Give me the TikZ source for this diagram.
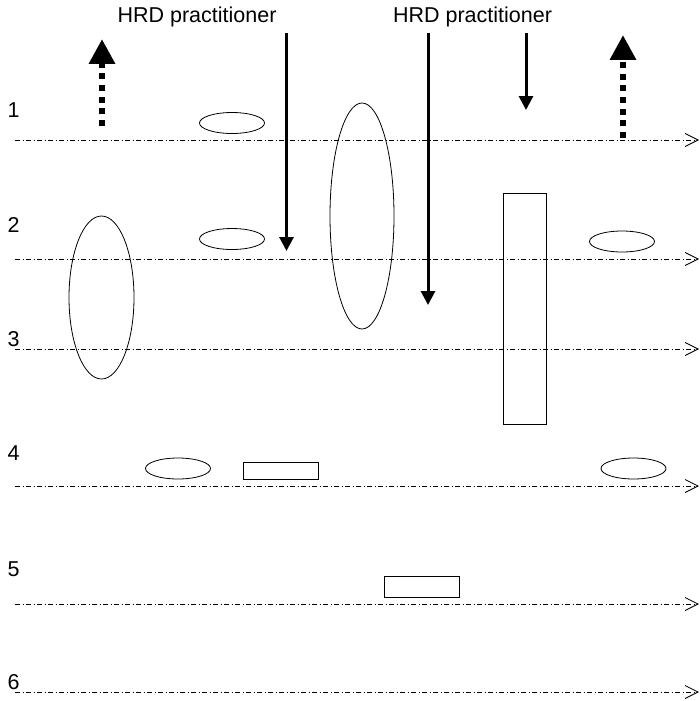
\documentclass[tikz,border=0pt]{standalone}
\usepackage{fontspec}
\setmainfont{Liberation Sans}
\usetikzlibrary{shapes.geometric,arrows.meta}

\tikzset{
	timeline/.style={line width=0.8pt, dash pattern=on 5pt off 2.5pt on 1pt off 2.5pt,
		-{Straight Barb[length=13pt,width=13pt]}},
	oval/.style={draw, ellipse, line width=0.8pt, inner sep=0pt},
	box/.style={draw, rectangle, line width=1pt, inner sep=0pt},
	push/.style={line width=3pt, -{Triangle[length=14pt,width=14pt]}},
	pull/.style={line width=6.5pt, dash pattern=on 6pt off 5.7pt,
		-{Triangle[length=25pt,width=25pt]}},
	rowlabel/.style={anchor=base, inner sep=0pt},
}

\begin{document}
\begin{tikzpicture}[x=1pt, y=-1pt, font=\fontsize{21.5}{25}\selectfont]
	\useasboundingbox (0,0) rectangle (700,701);

	\node[anchor=base, inner sep=0pt] (hrd0) at (197,23) {HRD practitioner};
	\node[anchor=base, inner sep=0pt] (hrd1) at (472.5,23) {HRD practitioner};

	\node[rowlabel] (r1) at (13.5,117) {1};
	\node[rowlabel] (r2) at (13.5,232) {2};
	\node[rowlabel] (r3) at (13.5,346) {3};
	\node[rowlabel] (r4) at (13.5,460) {4};
	\node[rowlabel] (r5) at (13.5,576) {5};
	\node[rowlabel] (r6) at (13.5,689) {6};

	\coordinate (s1) at (15,140);  \coordinate (t1) at (699,140);
	\coordinate (s2) at (15,259);  \coordinate (t2) at (699,259);
	\coordinate (s3) at (15,349);  \coordinate (t3) at (699,349);
	\coordinate (s4) at (15,486);  \coordinate (t4) at (699,486);
	\coordinate (s5) at (15,604);  \coordinate (t5) at (699,604);
	\coordinate (s6) at (15,692);  \coordinate (t6) at (699,692);

	\draw[timeline] (s1) to (t1);
	\draw[timeline] (s2) to (t2);
	\draw[timeline] (s3) to (t3);
	\draw[timeline] (s4) to (t4);
	\draw[timeline] (s5) to (t5);
	\draw[timeline] (s6) to (t6);


	\node[oval, minimum width=65pt, minimum height=21pt] (o1) at (232,123) {};
	\node[oval, minimum width=65pt, minimum height=21pt] (o2) at (232,239) {};
	\node[oval, minimum width=65pt, minimum height=163pt] (o3) at (101.5,297.5) {};
	\node[oval, minimum width=64pt, minimum height=226pt] (o4) at (362,216) {};
	\node[oval, minimum width=65pt, minimum height=21pt] (o5) at (622,241.5) {};
	\node[oval, minimum width=65pt, minimum height=21pt] (o6) at (178,468.5) {};
	\node[oval, minimum width=65pt, minimum height=21pt] (o7) at (633.5,468.5) {};

	\node[box, minimum width=43pt, minimum height=231pt] (b1) at (525,308.5) {};
	\node[box, minimum width=75pt, minimum height=17pt] (b2) at (280.5,470.5) {};
	\node[box, minimum width=75pt, minimum height=21pt] (b3) at (422,586.5) {};


	\coordinate (p0a) at (286.5,33);  \coordinate (p0b) at (286.5,251);
	\coordinate (p1a) at (428,33);    \coordinate (p1b) at (428,305);
	\coordinate (p2a) at (526,33);    \coordinate (p2b) at (526,110);
	\coordinate (u0a) at (102,126);   \coordinate (u0b) at (102,39);
	\coordinate (u1a) at (623,138);   \coordinate (u1b) at (623,35);

	\draw[push] (p0a) to (p0b);
	\draw[push] (p1a) to (p1b);
	\draw[push] (p2a) to (p2b);
	\draw[pull] (u0a) to (u0b);
	\draw[pull] (u1a) to (u1b);
\end{tikzpicture}
\end{document}
